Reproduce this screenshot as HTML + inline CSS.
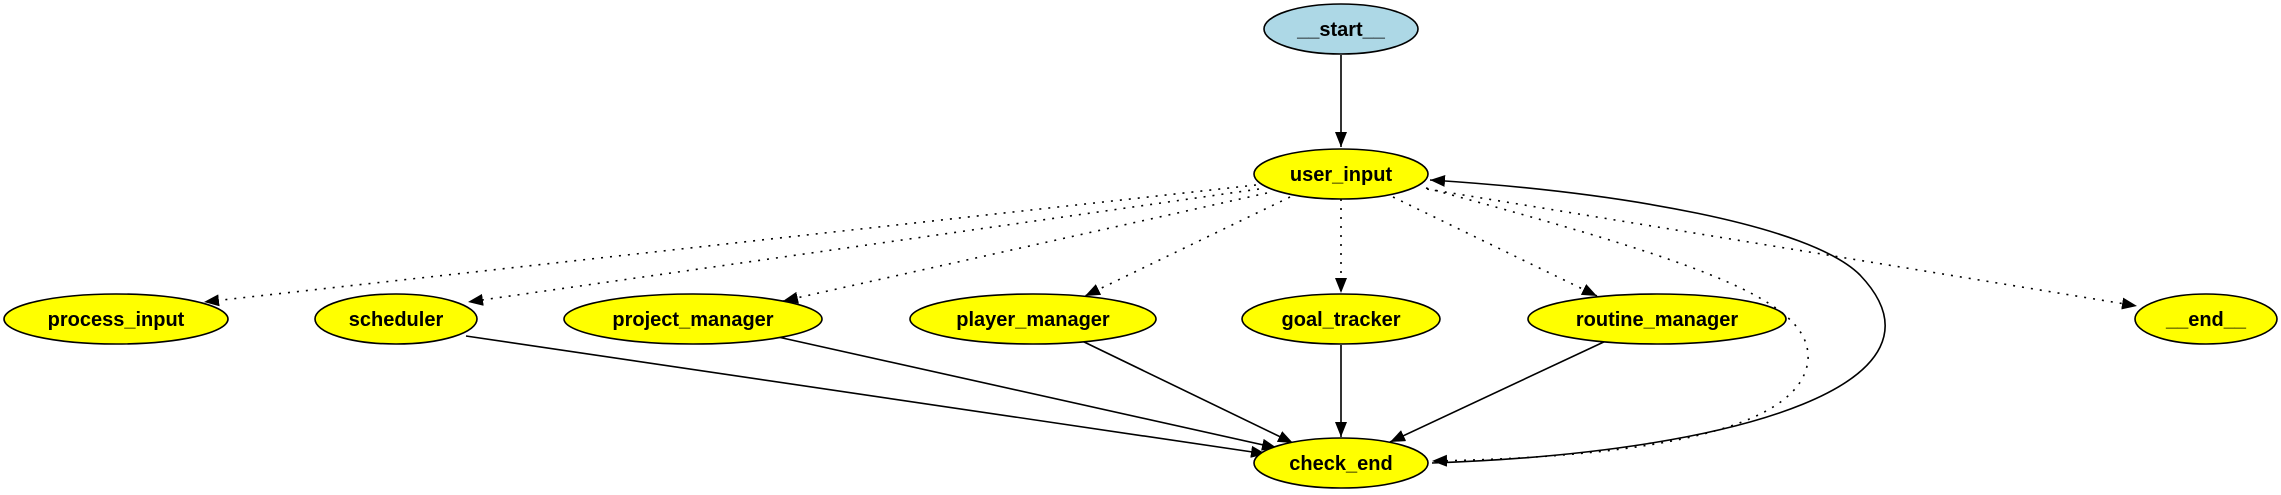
<!DOCTYPE html>
<html><head><meta charset="utf-8"><style>html,body{margin:0;padding:0;background:#fff}svg{display:block}</style></head>
<body>
<svg width="2281" height="495" viewBox="0 0 2281 495" xmlns="http://www.w3.org/2000/svg">
<defs>
<marker id="a" markerWidth="16" markerHeight="12" refX="15" refY="6" orient="auto" markerUnits="userSpaceOnUse">
<path d="M0,0 L15,6 L0,12 Z" fill="#000"/></marker>
</defs>
<g fill="none" stroke="#000" stroke-width="1.6">
<line x1="1341" y1="55" x2="1341" y2="147" marker-end="url(#a)"/>
<g stroke-dasharray="2,7">
<line x1="1256" y1="185" x2="204" y2="302" marker-end="url(#a)"/>
<line x1="1259" y1="189" x2="468" y2="302" marker-end="url(#a)"/>
<line x1="1267" y1="193" x2="783" y2="301" marker-end="url(#a)"/>
<line x1="1290" y1="197" x2="1085" y2="296" marker-end="url(#a)"/>
<line x1="1341" y1="199" x2="1341" y2="293" marker-end="url(#a)"/>
<line x1="1393" y1="197" x2="1597" y2="296" marker-end="url(#a)"/>
<line x1="1427" y1="189" x2="2137" y2="306" marker-end="url(#a)"/>
<path d="M1426,188 C1700,262 1812,300 1808,360 C1800,440 1600,458 1432,461" marker-end="url(#a)"/>
</g>
<path d="M1432,463 C1750,452 1960,380 1860,275 C1810,225 1620,192 1430,180" marker-end="url(#a)"/>
<line x1="466" y1="336" x2="1266" y2="454" marker-end="url(#a)"/>
<line x1="778" y1="337" x2="1277" y2="448" marker-end="url(#a)"/>
<line x1="1080" y1="340" x2="1293" y2="443" marker-end="url(#a)"/>
<line x1="1341" y1="345" x2="1341" y2="437" marker-end="url(#a)"/>
<line x1="1608" y1="340" x2="1390" y2="442" marker-end="url(#a)"/>
</g>
<g stroke="#000" stroke-width="1.6" fill="#ffff00">
<ellipse cx="1341" cy="29" rx="77" ry="25" fill="#add8e6"/>
<ellipse cx="1341" cy="174" rx="87" ry="25"/>
<ellipse cx="116" cy="319" rx="112" ry="25"/>
<ellipse cx="396" cy="319" rx="81" ry="25"/>
<ellipse cx="693" cy="319" rx="129" ry="25"/>
<ellipse cx="1033" cy="319" rx="123" ry="25"/>
<ellipse cx="1341" cy="319" rx="99" ry="25"/>
<ellipse cx="1657" cy="319" rx="129" ry="25"/>
<ellipse cx="2206" cy="319" rx="71" ry="25"/>
<ellipse cx="1341" cy="463" rx="87" ry="25"/>
</g>
<g font-family="Liberation Sans, sans-serif" font-weight="bold" font-size="20" text-anchor="middle" fill="#000">
<text x="1341" y="36">__start__</text>
<text x="1341" y="181">user_input</text>
<text x="116" y="326">process_input</text>
<text x="396" y="326">scheduler</text>
<text x="693" y="326">project_manager</text>
<text x="1033" y="326">player_manager</text>
<text x="1341" y="326">goal_tracker</text>
<text x="1657" y="326">routine_manager</text>
<text x="2206" y="326">__end__</text>
<text x="1341" y="470">check_end</text>
</g>
</svg>
</body></html>
